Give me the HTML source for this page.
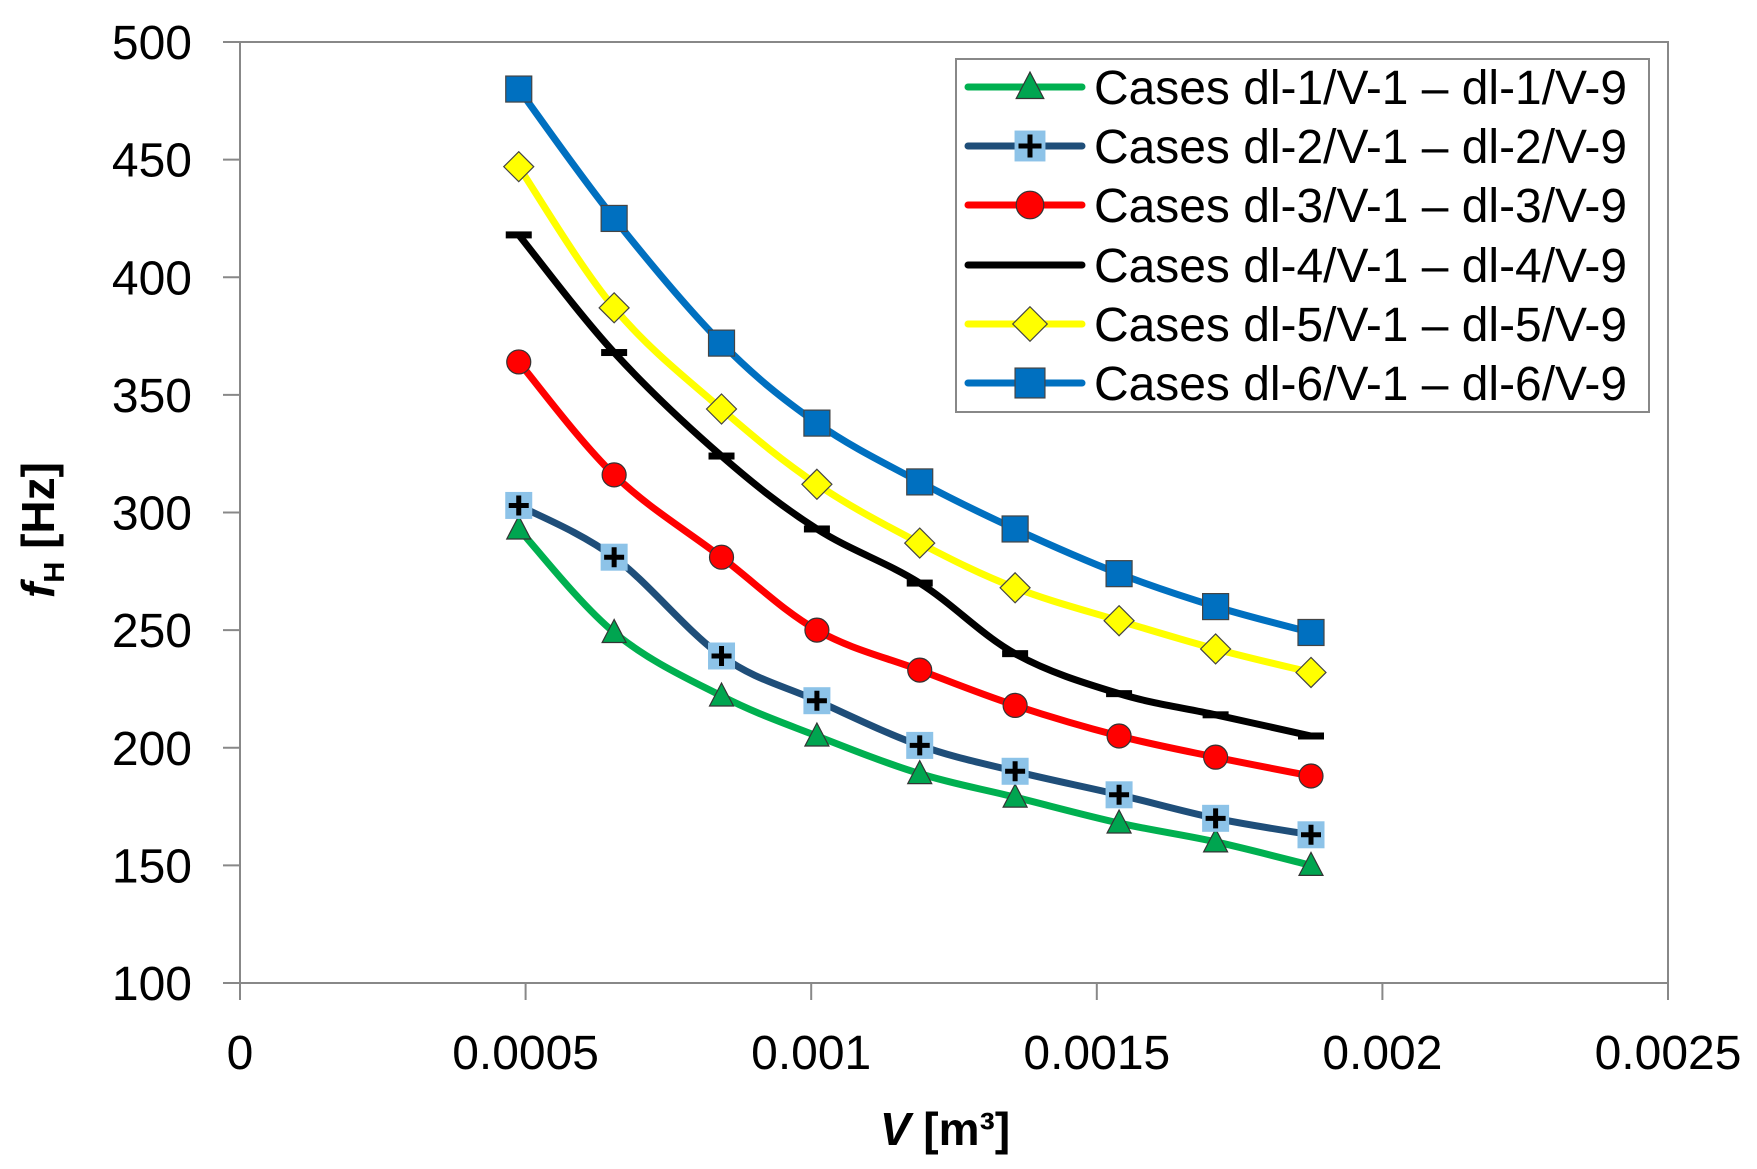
<!DOCTYPE html>
<html><head><meta charset="utf-8"><style>
html,body{margin:0;padding:0;background:#fff;}
svg{display:block;font-family:"Liberation Sans",sans-serif;}
</style></head><body>
<svg id="chart" width="1757" height="1169" viewBox="0 0 1757 1169">
<g id="axes"></g>
<g id="series"></g>
<g id="legend"></g>
</svg>
<script>
const xVals = [0.000488,0.000655,0.000843,0.00101,0.00119,0.001357,0.001539,0.001708,0.001875];
const s1 = [293,249,222,205,189,179,168,160,150];
const s2 = [303,281,239,220,201,190,180,170,163];
const s3 = [364,316,281,250,233,218,205,196,188];
const s4 = [418,368,324,293,270,240,223,214,205];
const s5 = [447,387,344,312,287,268,254,242,232];
const s6 = [480,425,372,338,313,293,274,260,249];
const yTicks = [100,150,200,250,300,350,400,450,500];
const xTicks = [0,0.0005,0.001,0.0015,0.002,0.0025];
const xTickLabels = ["0","0.0005","0.001","0.0015","0.002","0.0025"];
const seriesNames = ["Cases dl-1/V-1 \u2013 dl-1/V-9","Cases dl-2/V-1 \u2013 dl-2/V-9","Cases dl-3/V-1 \u2013 dl-3/V-9","Cases dl-4/V-1 \u2013 dl-4/V-9","Cases dl-5/V-1 \u2013 dl-5/V-9","Cases dl-6/V-1 \u2013 dl-6/V-9"];

const NS="http://www.w3.org/2000/svg";
const X0=240,X1=1668,Y0=983,Y1=42;
const xs=v=>X0+(v-0)/(0.0025)*(X1-X0);
const ys=v=>Y0-(v-100)/400*(Y0-Y1);
function mk(tag,attrs,parent){const e=document.createElementNS(NS,tag);for(const k in attrs)e.setAttribute(k,attrs[k]);parent.appendChild(e);return e;}
const axes=document.getElementById('axes');
let f=mk('rect',{x:X0,y:Y1,width:X1-X0,height:Y0-Y1,fill:'none',stroke:'#888','stroke-width':2},axes);

yTicks.forEach(t=>{
 const l=mk('line',{x1:X0-17,x2:X0,y1:ys(t),y2:ys(t),stroke:'#888','stroke-width':2},axes);
 
 const tx=mk('text',{x:X0-48,y:ys(t)+17,'text-anchor':'end','font-size':48,fill:'#000'},axes);
 tx.textContent=t;
 
});
xTicks.forEach((t,i)=>{
 const l=mk('line',{x1:xs(t),x2:xs(t),y1:Y0,y2:Y0+17,stroke:'#888','stroke-width':2},axes);
 
 const tx=mk('text',{x:xs(t),y:1069,'text-anchor':'middle','font-size':48,fill:'#000'},axes);
 tx.textContent=xTickLabels[i];
 
});
let xt=mk('text',{x:945,y:1145,'text-anchor':'middle','font-size':46,'font-weight':'bold'},axes);
xt.innerHTML='<tspan font-style="italic">V</tspan> [m³]';

let yt=mk('text',{x:0,y:0,'text-anchor':'middle','font-size':46,'font-weight':'bold',transform:'translate(54,530) rotate(-90)'},axes);
yt.innerHTML='<tspan font-style="italic">f</tspan><tspan font-size="29" dy="10">H</tspan><tspan dy="-10"> [Hz]</tspan>';


function smoothPath(pts){
 let d=`M${pts[0][0]},${pts[0][1]}`;
 for(let i=0;i<pts.length-1;i++){
  const p0=pts[i-1]||pts[i],p1=pts[i],p2=pts[i+1],p3=pts[i+2]||p2;
  const t=0.17;
  d+=` C${p1[0]+(p2[0]-p0[0])*t},${p1[1]+(p2[1]-p0[1])*t} ${p2[0]-(p3[0]-p1[0])*t},${p2[1]-(p3[1]-p1[1])*t} ${p2[0]},${p2[1]}`;
 }
 return d;
}
function marker(type,x,y,g,s){
 s=s||1;let m;
 if(type==='tri') m=mk('polygon',{points:`${x},${y-13*s} ${x-12*s},${y+10*s} ${x+12*s},${y+10*s}`,fill:'#00A550',stroke:'#333','stroke-width':1.2},g);
 else if(type==='plus'){m=mk('g',{},g);
  mk('rect',{x:x-13*s,y:y-13*s,width:26*s,height:26*s,fill:'#8DC3E8',stroke:'#8DC3E8'},m);
  mk('path',{d:`M${x-10*s},${y}H${x+10*s}M${x},${y-10*s}V${y+10*s}`,stroke:'#000','stroke-width':5},m);}
 else if(type==='circ') m=mk('circle',{cx:x,cy:y,r:12*s,fill:'#FF0000',stroke:'#333','stroke-width':1.2},g);
 else if(type==='dash') m=mk('rect',{x:x-13,y:y-3.5,width:26,height:7,fill:'#000'},g);
 else if(type==='dia') m=mk('polygon',{points:`${x},${y-15*s} ${x+15*s},${y} ${x},${y+15*s} ${x-15*s},${y}`,fill:'#FFFF00',stroke:'#444','stroke-width':1.2},g);
 else if(type==='sq') m=mk('rect',{x:x-13*s,y:y-13*s,width:26*s,height:26*s,fill:'#0070C0',stroke:'#444','stroke-width':1.2},g);
 return m;
}
const allSeries=[s1,s2,s3,s4,s5,s6];
const colors=['#00B050','#1F4E79','#FF0000','#000000','#FFFF00','#0070C0'];
const mtypes=['tri','plus','circ','dash','dia','sq'];
const sg=document.getElementById('series');
allSeries.forEach((s,k)=>{
 const g=mk('g',{},sg);
 
 const pts=s.map((v,i)=>[xs(xVals[i]),ys(v)]);
 const p=mk('path',{d:smoothPath(pts),fill:'none',stroke:colors[k],'stroke-width':7,'stroke-linejoin':'round'},g);
 
 pts.forEach(pt=>{const m=marker(mtypes[k],pt[0],pt[1],g);
  });
});
const lg=document.getElementById('legend');
let lb=mk('rect',{x:956,y:59,width:693,height:353,fill:'#fff',stroke:'#888','stroke-width':2},lg);

const rowY=[87,146,205,265,324,383];
seriesNames.forEach((n,k)=>{
 const g=mk('g',{},lg);
 
 mk('line',{x1:968,x2:1082,y1:rowY[k],y2:rowY[k],stroke:colors[k],'stroke-width':7,'stroke-linecap':'round'},g);
 marker(mtypes[k],1030,rowY[k],g,1.15);
 const t=mk('text',{x:1094,y:rowY[k]+17,'font-size':48,textLength:533,lengthAdjust:'spacingAndGlyphs'},g);
 t.textContent=n;
});
</script>
</body></html>
